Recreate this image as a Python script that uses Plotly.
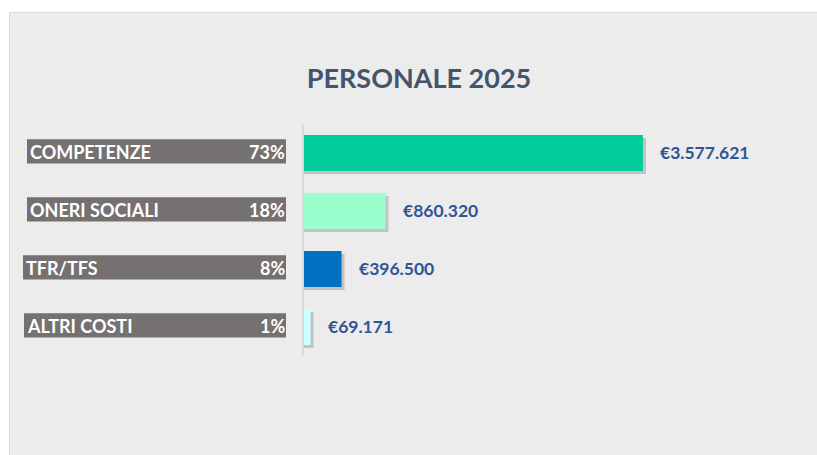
import plotly.graph_objects as go

# ---- data ----
categories = ["COMPETENZE", "ONERI SOCIALI", "TFR/TFS", "ALTRI COSTI"]
values = [3577621, 860320, 396500, 69171]
pct_labels = ["73%", "18%", "8%", "1%"]
bar_colors = ["#00CC99", "#99FFCC", "#0070C0", "#CCFFFF"]
title_text = "PERSONALE 2025"

# ---- layout geometry (page pixels; body margin removed below) ----
OFF = 0
W, H = 817, 455
PLOT_L, PLOT_R, PLOT_T, PLOT_B = 304, 790, 124, 356  # page px
ML = PLOT_L - OFF
MT = PLOT_T - OFF
MR = W - (PLOT_R - OFF)
MB = H - (PLOT_B - OFF)
PW = PLOT_R - PLOT_L
PH = PLOT_B - PLOT_T
XMAX = 5130000

def px_to_paper_x(px):
    return (px - PLOT_L) / PW

def px_to_paper_y(py):
    return (PLOT_B - py) / PH

FONT = "Lato, 'Noto Sans', 'DejaVu Sans', sans-serif"
PANEL = "#ECECEC"
BORDER = "#D9D9D9"

fig = go.Figure()

# shadow behind bars
shadow_len = [v + XMAX * 3 / PW for v in values]
fig.add_trace(go.Bar(
    y=categories, x=shadow_len, orientation="h",
    marker=dict(color="rgba(90,90,90,0.28)", line=dict(width=0)),
    width=0.62, offset=-0.31 + 3 / 58,
    hoverinfo="skip", showlegend=False,
))
fig.add_trace(go.Bar(
    y=categories, x=values, orientation="h",
    marker=dict(color=bar_colors, line=dict(width=0)),
    width=0.62, offset=-0.31,
    showlegend=False,
))

shapes = []
# white strips outside the gray panel (top and left)
shapes.append(dict(
    type="rect", xref="paper", yref="paper",
    x0=px_to_paper_x(-10), x1=px_to_paper_x(900),
    y0=px_to_paper_y(12), y1=px_to_paper_y(-10),
    fillcolor="#FFFFFF", line=dict(width=0), layer="below",
))
shapes.append(dict(
    type="rect", xref="paper", yref="paper",
    x0=px_to_paper_x(-10), x1=px_to_paper_x(9),
    y0=px_to_paper_y(500), y1=px_to_paper_y(-10),
    fillcolor="#FFFFFF", line=dict(width=0), layer="below",
))
# panel border (top and left)
shapes.append(dict(
    type="line", xref="paper", yref="paper",
    x0=px_to_paper_x(9.5), x1=px_to_paper_x(900),
    y0=px_to_paper_y(12.5), y1=px_to_paper_y(12.5),
    line=dict(color=BORDER, width=1), layer="below",
))
shapes.append(dict(
    type="line", xref="paper", yref="paper",
    x0=px_to_paper_x(9.5), x1=px_to_paper_x(9.5),
    y0=px_to_paper_y(12.5), y1=px_to_paper_y(500),
    line=dict(color=BORDER, width=1), layer="below",
))

box_left = [27, 27, 23, 24]
annotations = []
for i, (cat, pct, v) in enumerate(zip(categories, pct_labels, values)):
    shapes.append(dict(
        type="rect", xref="paper", yref="y",
        x0=px_to_paper_x(box_left[i]), x1=px_to_paper_x(286),
        y0=i - 0.235, y1=i + 0.18,
        fillcolor="#767171", line=dict(width=0), layer="above",
    ))
    annotations.append(dict(
        x=px_to_paper_x(box_left[i] + 1), y=cat, xref="paper", yref="y",
        text=cat, showarrow=False, xanchor="left", yanchor="middle", yshift=1,
        font=dict(family=FONT, size=18, color="#FFFFFF", weight="bold"),
    ))
    annotations.append(dict(
        x=px_to_paper_x(287), y=cat, xref="paper", yref="y",
        text=pct, showarrow=False, xanchor="right", yanchor="middle", yshift=1,
        font=dict(family=FONT, size=18, color="#FFFFFF", weight="bold"),
    ))
    annotations.append(dict(
        x=v, y=cat, xref="x", yref="y",
        text="€" + f"{v:,}".replace(",", "."), showarrow=False,
        xanchor="left", yanchor="middle", xshift=15, yshift=1,
        font=dict(family=FONT, size=17.5, color="#2F5597", weight="bold"),
    ))

fig.update_layout(
    width=W, height=H,
    margin=dict(l=ML, r=MR, t=MT, b=MB),
    paper_bgcolor=PANEL, plot_bgcolor="rgba(0,0,0,0)",
    barmode="overlay",
    title=dict(
        text=title_text, x=(419 - OFF) / W, xanchor="center", xref="container",
        y=(H - (79 - OFF)) / H, yanchor="middle", yref="container",
        font=dict(family=FONT, size=27, color="#44546A", weight="bold"),
    ),
    xaxis=dict(range=[0, XMAX], visible=False, fixedrange=True),
    yaxis=dict(
        autorange="reversed", showticklabels=False, showgrid=False,
        zeroline=False, showline=True, linecolor=BORDER, linewidth=1.5,
        ticks="", fixedrange=True,
    ),
    shapes=shapes, annotations=annotations,
)

fig.write_html(
    "out.html",
    config={"displayModeBar": False},
    post_script="document.body.style.margin='0';document.body.style.padding='0';"
                "document.documentElement.style.overflow='hidden';",
)
